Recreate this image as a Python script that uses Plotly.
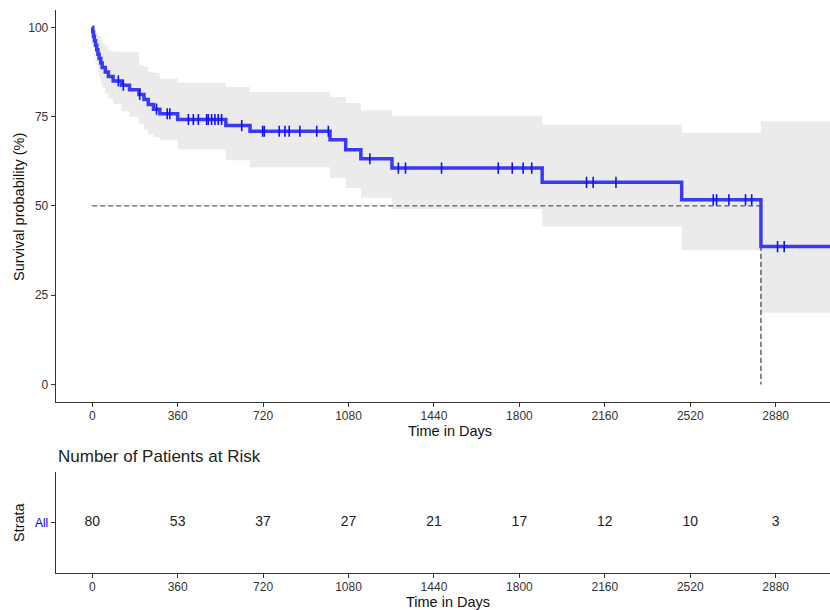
import plotly.graph_objects as go

# Kaplan-Meier estimate (survival in %), step function at event times (days)
event_days = [0, 2, 5, 9, 14, 19, 24, 29, 36, 42, 55, 68, 88, 123, 157, 197, 218, 236,
              258, 285, 360, 563, 665, 1002, 1068, 1132, 1263, 1896, 2484, 2818]
surv_pct = [100, 98.75, 97.5, 96.25, 95, 93.75, 92.5, 91.25, 90, 88.75, 87.5, 86.25, 85,
            83.8, 82.5, 81.2, 79.8, 78.4, 77.1, 75.8, 74.2, 72.5, 70.9, 68.5, 65.7, 63.2,
            60.6, 56.6, 51.7, 38.6]
ci_upper = [100, 100, 100, 99.5, 99, 98.5, 98, 97.5, 96.5, 95.5, 94.5, 93.5, 93.2, 93.0,
            93.0, 89.4, 89.0, 87.6, 87.2, 85.7, 84.5, 83.3, 81.9, 80.5, 78.8, 76.8, 75.1,
            72.8, 70.4, 73.7]
ci_lower = [100, 96.5, 94.5, 92.5, 90.5, 89, 87.5, 86, 84.5, 83, 81.5, 80, 78.5, 76.5, 75,
            73, 71.5, 70, 69.2, 68.4, 65.8, 62.8, 60.8, 57.8, 55, 52.2, 49.1, 44.2, 37.6,
            20.1]
last_day = 3110

# censored observations (days)
censor_days = [110, 131, 200, 271, 316, 327, 405, 426, 447, 482, 489, 503, 517, 531, 545,
               630, 718, 725, 788, 812, 830, 875, 946, 995, 1170, 1290, 1320, 1472, 1711,
               1770, 1816, 1852, 2083, 2111, 2207, 2617, 2631, 2683, 2753, 2779, 2888, 2916]

median_day = 2818

# risk table
risk_days = [0, 360, 720, 1080, 1440, 1800, 2160, 2520, 2880]
n_at_risk = [80, 53, 37, 27, 21, 17, 12, 10, 3]
x_ticks = [0, 360, 720, 1080, 1440, 1800, 2160, 2520, 2880]
y_ticks = [0, 25, 50, 75, 100]

FONT = "Liberation Sans, Arial, sans-serif"
W, H = 830, 610
CURVE = "#3a3af3"


def surv_at(t):
    val = surv_pct[0]
    for d, s in zip(event_days, surv_pct):
        if d <= t:
            val = s
    return val


def px(x):
    return x / W


def py(y):
    return 1 - y / H


xs = event_days + [last_day]
fig = go.Figure()

# confidence band
fig.add_trace(go.Scatter(x=xs, y=ci_upper + [ci_upper[-1]], mode="lines",
                         line=dict(width=0, shape="hv"), hoverinfo="skip",
                         showlegend=False, xaxis="x", yaxis="y"))
fig.add_trace(go.Scatter(x=xs, y=ci_lower + [ci_lower[-1]], mode="lines",
                         line=dict(width=0, shape="hv"), fill="tonexty",
                         fillcolor="#EBEBEB", hoverinfo="skip",
                         showlegend=False, xaxis="x", yaxis="y"))

# median survival guide lines
fig.add_trace(go.Scatter(x=[0, median_day], y=[50, 50], mode="lines",
                         line=dict(color="#333333", width=1, dash="5px,3px"),
                         showlegend=False, xaxis="x", yaxis="y"))
fig.add_trace(go.Scatter(x=[median_day, median_day], y=[50, 0], mode="lines",
                         line=dict(color="#111111", width=1, dash="5px,3px"),
                         showlegend=False, xaxis="x", yaxis="y"))

# survival curve
fig.add_trace(go.Scatter(x=xs, y=surv_pct + [surv_pct[-1]], mode="lines",
                         line=dict(color=CURVE, width=3.5, shape="hv"),
                         showlegend=False, xaxis="x", yaxis="y"))

# censor marks
fig.add_trace(go.Scatter(x=censor_days, y=[surv_at(t) for t in censor_days],
                         mode="markers",
                         marker=dict(symbol="line-ns", size=8,
                                     line=dict(color="#1010ff", width=1.6)),
                         showlegend=False, xaxis="x", yaxis="y"))

# numbers at risk
fig.add_trace(go.Scatter(x=risk_days, y=[0] * len(risk_days), mode="text",
                         text=[str(n) for n in n_at_risk],
                         textfont=dict(family=FONT, size=14, color="#222222"),
                         showlegend=False, xaxis="x2", yaxis="y2"))

x_left = px(55.7)
axis_common = dict(showgrid=False, zeroline=False, showline=True, linecolor="#333333",
                   linewidth=1, ticks="outside", ticklen=4, tickwidth=1,
                   tickcolor="#333333",
                   tickfont=dict(family=FONT, size=12, color="#333333"))

fig.update_layout(
    width=W, height=H,
    margin=dict(l=0, r=0, t=0, b=0),
    paper_bgcolor="white", plot_bgcolor="white",
    font=dict(family=FONT),
    xaxis=dict(domain=[x_left, 1], range=[-154, 3109], tickvals=x_ticks,
               anchor="y", ticklabelstandoff=-2, **axis_common),
    yaxis=dict(domain=[py(402.3), py(9.5)], range=[-5, 105], tickvals=y_ticks,
               anchor="x", **axis_common),
    xaxis2=dict(domain=[x_left, 1], range=[-154, 3109], tickvals=x_ticks,
                anchor="y2", ticklabelstandoff=-2, **axis_common),
    yaxis2=dict(domain=[py(573.3), py(471.7)], range=[-1, 1], tickvals=[0],
                ticktext=["All"], anchor="x2",
                **{**axis_common,
                   "tickfont": dict(family=FONT, size=12, color="#0000ff")}),
    annotations=[
        dict(text="Time in Days", x=px(449.5), y=py(431), xref="paper", yref="paper",
             showarrow=False, xanchor="center", yanchor="middle",
             font=dict(family=FONT, size=14.5, color="#111111")),
        dict(text="Survival probability (%)", x=px(18.3), y=py(206.7),
             xref="paper", yref="paper", showarrow=False, textangle=-90,
             xanchor="center", yanchor="middle",
             font=dict(family=FONT, size=14.5, color="#111111")),
        dict(text="Number of Patients at Risk", x=px(56), y=py(456), xref="paper",
             yref="paper", showarrow=False, xanchor="left", yanchor="middle",
             font=dict(family=FONT, size=17, color="#222222")),
        dict(text="Time in Days", x=px(448), y=py(601.5), xref="paper", yref="paper",
             showarrow=False, xanchor="center", yanchor="middle",
             font=dict(family=FONT, size=14.5, color="#111111")),
        dict(text="Strata", x=px(18.3), y=py(521.7), xref="paper", yref="paper",
             showarrow=False, textangle=-90, xanchor="center", yanchor="middle",
             font=dict(family=FONT, size=14.5, color="#111111")),
    ],
)

fig.write_html("out.html")
